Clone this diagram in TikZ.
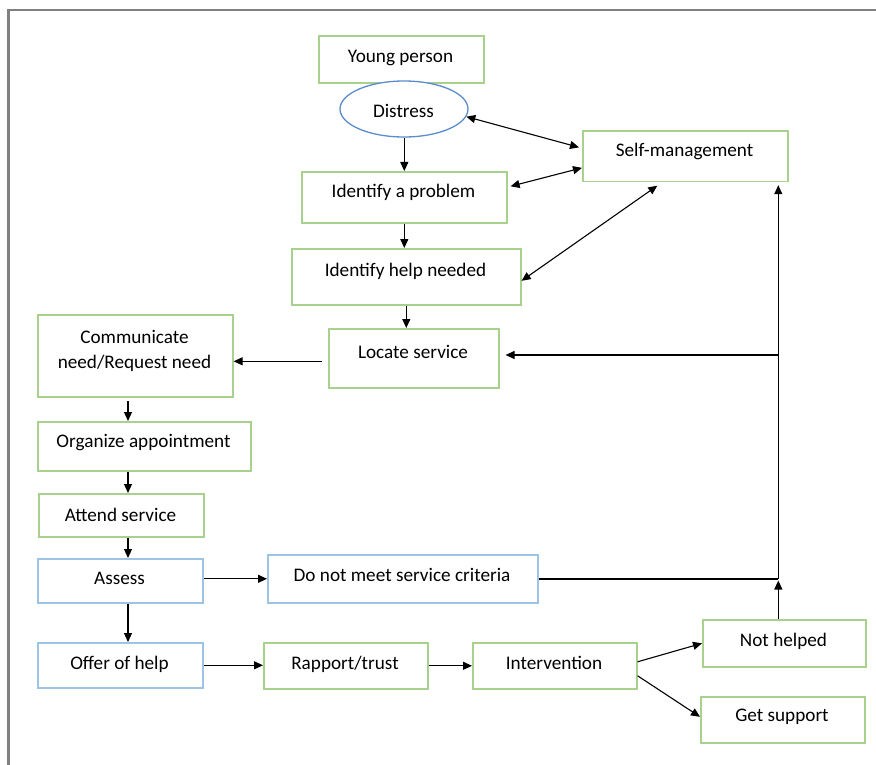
\documentclass[tikz,border=0pt]{standalone}
\usepackage{fontspec}
\setmainfont{Carlito}
\usetikzlibrary{arrows.meta,shapes.geometric}

\definecolor{boxgreen}{RGB}{169,209,142}
\definecolor{boxblue}{RGB}{157,195,230}
\definecolor{ovalblue}{RGB}{91,140,205}
\definecolor{framegray}{RGB}{128,128,128}

\tikzset{
  greenbox/.style={draw=boxgreen, line width=1.6pt, inner sep=0pt, fill=white},
  bluebox/.style={draw=boxblue, line width=1.6pt, inner sep=0pt, fill=white},
  lbl/.style={font=\fontsize{19.2}{25.3}\selectfont, inner sep=0pt, align=center},
  arr/.style={draw=black, line width=1.1pt, -{Triangle[length=9pt,width=8pt]}},
  biarr/.style={draw=black, line width=1.1pt, {Triangle[length=9pt,width=8pt]}-{Triangle[length=9pt,width=8pt]}},
  plainline/.style={draw=black, line width=1.1pt},
}

% box name, style, top-left x/y, bottom-right x/y, baseline of the last text line, text
\newcommand\flowbox[8]{%
  \node[#2, anchor=north west, minimum width={#5pt-#3pt}, minimum height={#6pt-#4pt}] (#1) at (#3,#4) {};
  \node[lbl, anchor=base] (#1-text) at ({(#3+#5)/2},#7) {#8};
}

\begin{document}
\begin{tikzpicture}[x=1pt,y=-1pt]
  \useasboundingbox (0,0) rectangle (876,765);
  \fill[white] (0,0) rectangle (876,765);

  % page frame
  \draw[framegray, line width=2.5pt] (8.3,765) -- (8.3,10) -- (876,10);

  % boxes
  \flowbox{young}{greenbox}{318}{35}{483}{82.5}{62.3}{Young person}
  \node[draw=ovalblue, line width=1.3pt, ellipse, fill=white, inner sep=0pt,
        minimum width=128pt, minimum height=56pt] (distress) at (404,109) {};
  \node[lbl, anchor=base] (distress-text) at (403.5,117.4) {Distress};
  \flowbox{selfm}{greenbox}{582}{130.5}{787}{180.6}{157}{Self-management}
  \flowbox{prob}{greenbox}{301}{171}{506}{222}{197.5}{Identify a problem}
  \flowbox{help}{greenbox}{291}{248}{520}{304}{276}{Identify help needed}
  \flowbox{comm}{greenbox}{37}{314}{232}{396}{368.3}{Communicate\\need/Request need}
  \flowbox{locate}{greenbox}{328}{328}{498}{387}{358}{Locate service}
  \flowbox{org}{greenbox}{37}{421}{250}{470}{447.7}{Organize appointment}
  \flowbox{attend}{greenbox}{38}{493}{203}{536}{521.4}{Attend service}
  \flowbox{assess}{bluebox}{37}{558}{202}{602}{584.3}{Assess}
  \flowbox{offer}{bluebox}{37}{642}{202}{687}{669}{Offer of help}
  \flowbox{dnm}{bluebox}{267}{554}{537}{602}{581}{Do not meet service criteria}
  \flowbox{rapport}{greenbox}{263}{642}{427}{688}{669}{Rapport/trust}
  \flowbox{interv}{greenbox}{472}{642}{636}{688}{669}{Intervention}
  \flowbox{nothelped}{greenbox}{702}{619}{865}{666}{646.7}{Not helped}
  \flowbox{getsup}{greenbox}{700}{696}{864}{742}{721.7}{Get support}

  % helper coordinates
  \coordinate (colx) at (128,0);
  \coordinate (join) at (778.3,579);
  \coordinate (branch) at (778.3,355);

  % main column of the top part
  \draw[arr] (distress.south -| prob.north) -- (prob.north);
  \draw[arr] (prob.south) -- (prob.south |- help.north);
  \draw[arr] (help.south) -- (help.south |- locate.north);
  \draw[arr] ([shift={(-6,3)}]locate.west) -- ([shift={(0,3)}]locate.west -| comm.east);

  % links with self-management
  \draw[biarr] (distress.-7) -- ([shift={(-3,-9)}]selfm.west);
  \draw[biarr] ([shift={(3,-11)}]prob.east) -- ([shift={(0,11.5)}]selfm.west);
  \draw[biarr] ([shift={(0,4)}]help.east) -- ([shift={(-28,3.5)}]selfm.south);

  % left column
  \draw[arr] ([yshift=-3.5pt]comm.south -| colx) -- (org.north -| colx);
  \draw[arr] (org.south -| colx) -- (attend.north -| colx);
  \draw[arr] (attend.south -| colx) -- (assess.north -| colx);
  \draw[arr] (assess.south -| colx) -- (offer.north -| colx);

  % service outcomes
  \draw[arr] ([yshift=2pt]assess.east) -- ([yshift=2pt]assess.east -| dnm.west);
  \draw[arr] (offer.east) -- (offer.east -| rapport.west);
  \draw[arr] (rapport.east) -- (interv.west);
  \draw[arr] ([yshift=4pt]interv.east) -- (nothelped.west);
  \draw[arr] ([yshift=-10pt]interv.east) -- ([yshift=3pt]getsup.west);

  % feedback loop back to self-management and locating a service
  \draw[plainline] (dnm.east |- join) -- (join);
  \draw[arr] (nothelped.north -| join) -- ([yshift=-1.5pt]join);
  \draw[arr] (join) -- ([yshift=-3pt]join |- selfm.south);
  \draw[arr] (branch) -- ([xshift=6pt]branch -| locate.east);
\end{tikzpicture}
\end{document}
